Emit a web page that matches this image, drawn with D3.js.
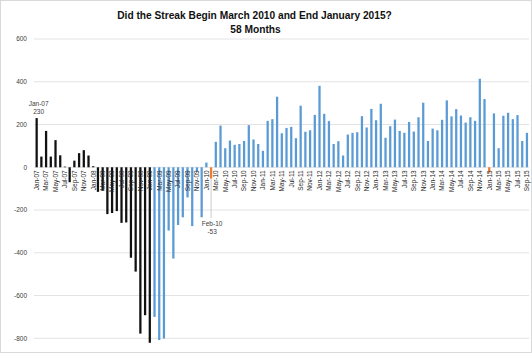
<!DOCTYPE html>
<html>
<head>
<meta charset="utf-8">
<script src="https://cdn.jsdelivr.net/npm/d3@7"></script>
<style>
  body { margin: 0; background: #fff; }
  text { font-family: "Liberation Sans", Arial, sans-serif; }
</style>
</head>
<body>
<div id="chart"></div>
<script>
const monthNames = ["Jan","Feb","Mar","Apr","May","Jun","Jul","Aug","Sep","Oct","Nov","Dec"];
const years = ["07","08","09","10","11","12","13","14","15"];

// monthly job change (thousands), Jan-07 .. Sep-15
const values = [
  230, 50, 170, 50, 127, 56, 3, -70, 31, 66, 80, 55,
  5, -115, -110, -219, -214, -205, -260, -258, -423, -488, -778, -692,
  -821, -700, -808, -801, -296, -427, -270, -234, -141, -275, -20, -234,
  22, -53, 119, 195, 89, 125, 105, 109, 123, 197, 130, 109,
  77, 217, 225, 330, 159, 184, 189, 136, 288, 166, 173, 245,
  381, 250, 216, 109, 122, 55, 153, 161, 164, 239, 186, 273,
  220, 297, 138, 192, 223, 170, 161, 212, 167, 234, 302, 123,
  181, 173, 222, 313, 238, 272, 242, 209, 234, 217, 414, 319,
  -25, 252, 89, 241, 255, 225, 244, 123, 161
];

const yTicks = [600, 400, 200, 0, -200, -400, -600, -800];
const lastBlackMonth = "Jan-09";
const highlightMonths = ["Feb-10", "Jan-15"];

const months = [];
years.forEach(y => monthNames.forEach(m => months.push(m + "-" + y)));
const data = values.map((v, i) => ({ month: months[i], value: v }));

const width = 532, height = 353;

const svg = d3.select('#chart')
  .append('svg')
  .attr('width', width)
  .attr('height', height);

svg.append('rect')
  .attr('x', 0.5).attr('y', 0.5)
  .attr('width', width - 1).attr('height', height - 1)
  .attr('fill', '#fff')
  .attr('stroke', '#d9d9d9');

const x = d3.scaleBand()
  .domain(data.map(d => d.month))
  .range([34.3, 529.3])
  .paddingInner(0.52)
  .paddingOuter(0.26);

const y = d3.scaleLinear()
  .domain([-800, 600])
  .range([338.3, 39]);

// gridlines + y labels
svg.append('g')
  .selectAll('line')
  .data(yTicks)
  .join('line')
  .attr('x1', 34).attr('x2', 529)
  .attr('y1', d => y(d)).attr('y2', d => y(d))
  .attr('stroke', '#e3e3e3')
  .attr('stroke-width', 1);

svg.append('g')
  .selectAll('text')
  .data(yTicks)
  .join('text')
  .attr('x', 27)
  .attr('y', d => y(d))
  .attr('dy', '0.35em')
  .attr('text-anchor', 'end')
  .attr('font-size', 6.5)
  .attr('fill', '#404040')
  .text(d => d);

const blackIdx = months.indexOf(lastBlackMonth);
const barColor = (d, i) => {
  if (highlightMonths.includes(d.month)) return '#ed7d31';
  if (i <= blackIdx) return '#111';
  return '#5b9bd5';
};

// bars
svg.append('g')
  .selectAll('rect')
  .data(data)
  .join('rect')
  .attr('x', d => x(d.month))
  .attr('width', x.bandwidth())
  .attr('y', d => y(Math.max(0, d.value)))
  .attr('height', d => Math.abs(y(d.value) - y(0)))
  .attr('fill', barColor);

// x axis labels (every other month)
const xAxis = d3.axisBottom(x)
  .tickValues(months.filter((m, i) => i % 2 === 0 && i < data.length))
  .tickSize(0)
  .tickPadding(0);

const gx = svg.append('g')
  .attr('transform', `translate(0,${y(0)})`)
  .call(xAxis);
gx.select('.domain').remove();
gx.selectAll('text')
  .attr('font-size', 6.5)
  .attr('fill', '#262626')
  .attr('font-family', '"Liberation Sans", Arial, sans-serif')
  .attr('text-anchor', 'end')
  .attr('transform', 'translate(0,3) rotate(-90)')
  .attr('x', 0)
  .attr('y', 0)
  .attr('dy', '0.35em');

// title
svg.append('text')
  .attr('x', 254.5).attr('y', 18.5)
  .attr('text-anchor', 'middle')
  .attr('font-size', 10.2)
  .attr('font-weight', 'bold')
  .attr('fill', '#111')
  .text('Did the Streak Begin March 2010 and End January 2015?');
svg.append('text')
  .attr('x', 255.5).attr('y', 33)
  .attr('text-anchor', 'middle')
  .attr('font-size', 10.2)
  .attr('font-weight', 'bold')
  .attr('fill', '#111')
  .text('58 Months');

// data callouts
const first = data[0];
const fx = x(first.month) + x.bandwidth() / 2;
svg.append('text')
  .attr('x', fx + 2).attr('y', 106)
  .attr('text-anchor', 'middle')
  .attr('font-size', 6.5).attr('fill', '#404040')
  .text(first.month);
svg.append('text')
  .attr('x', fx + 2).attr('y', 114)
  .attr('text-anchor', 'middle')
  .attr('font-size', 6.5).attr('fill', '#404040')
  .text(first.value);

const feb = data.find(d => d.month === "Feb-10");
const bx = x(feb.month) + x.bandwidth() / 2;
svg.append('line')
  .attr('x1', bx).attr('x2', bx)
  .attr('y1', y(feb.value)).attr('y2', 218)
  .attr('stroke', '#bfbfbf')
  .attr('stroke-width', 0.8);
svg.append('text')
  .attr('x', bx + 1).attr('y', 226)
  .attr('text-anchor', 'middle')
  .attr('font-size', 6.5).attr('fill', '#404040')
  .text(feb.month);
svg.append('text')
  .attr('x', bx + 1).attr('y', 234)
  .attr('text-anchor', 'middle')
  .attr('font-size', 6.5).attr('fill', '#404040')
  .text(feb.value);
</script>
</body>
</html>
